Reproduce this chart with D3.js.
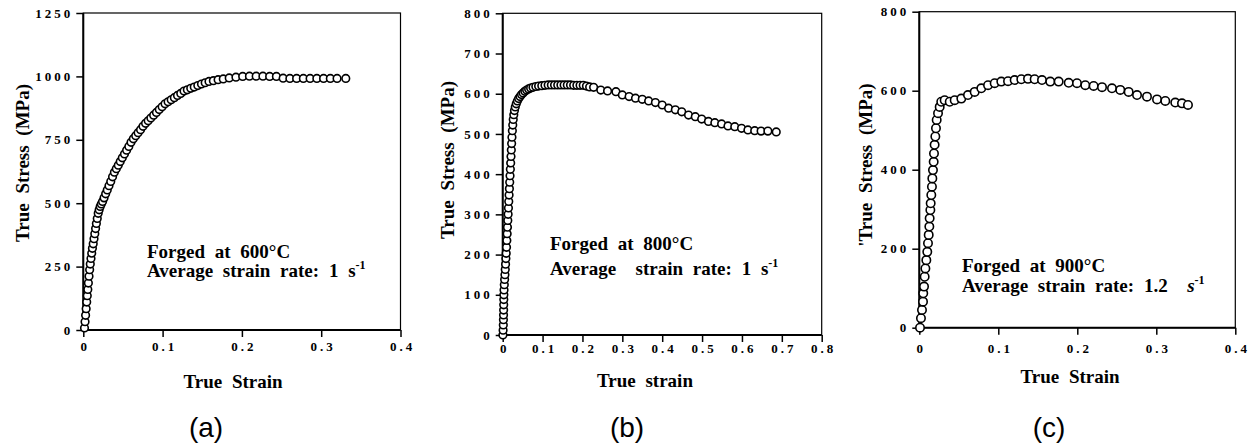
<!DOCTYPE html>
<html lang="en">
<head>
<meta charset="UTF-8" />
<title>True stress - true strain curves</title>
<script src="https://cdn.jsdelivr.net/npm/d3@7/dist/d3.min.js"></script>
<style>
  body { margin: 0; background: #fff; }
  svg { display: block; }
  .tick text { font-family: "Liberation Serif", "Times New Roman", serif; font-weight: bold; font-size: 13px; letter-spacing: 3px; fill: #000; }
  .tick line { stroke: #000; stroke-width: 1.5; }
  .domain { display: none; }
  .frame { fill: none; stroke: #000; stroke-width: 1.2; }
  .axis-line { stroke: #000; stroke-width: 2; }
  .title, .note { font-family: "Liberation Serif", "Times New Roman", serif; font-weight: bold; font-size: 19px; fill: #000; word-spacing: 5px; white-space: pre; }
  .panel-label { font-family: "Liberation Sans", Arial, sans-serif; font-size: 28px; fill: #000; }
  circle.pt { fill: #fff; stroke: #000; stroke-width: 1.6; }
</style>
</head>
<body>
<script>
// ---- data ----
var strainA = [0.0015,0.0022,0.0029,0.0036,0.0043,0.0050,0.0057,0.0064,0.0072,0.0080,0.0088,0.0097,0.0106,0.0115,0.0125,0.0135,0.0145,0.0155,0.0165,0.0176,0.0188,0.0200,0.0213,0.0227,
  0.0243,0.0262,0.0282,0.0302,0.0324,0.0346,0.0369,0.0392,0.0416,0.0441,0.0466,0.0492,0.0519,0.0546,0.0574,0.0602,0.0631,0.0661,0.0691,0.0722,0.0753,0.0785,0.0818,0.0852,0.0887,0.0922,0.0958,0.0994,
  0.1031,0.1069,0.1108,0.1148,0.1188,0.1229,0.1270,0.1312,0.1355,0.1399,0.1444,0.1490,0.1537,0.1585,0.1640,0.1700,0.1765,0.1840,0.1925,0.2010,0.2095,0.2180,0.2265,0.2350,0.2435,
  0.2520,0.2605,0.2690,0.2775,0.2860,0.2945,0.3030,0.3115,0.3200,0.3310];
var stressA = [8,33,58,84,110,135,160,185,212,238,260,282,303,322,340,360,380,400,420,440,460,474,487,497,
  507,521,537,552,569,586,604,622,636,650,664,679,694,709,724,740,754,766,778,790,803,815,825,836,847,858,869,880,
  892,900,908,916,925,933,942,947,953,958,964,970,975,980,983,987,990,994,997,1000,1001,1001,1001,1000,1000,
  993,992,992,992,992,992,992,992,992,992];

var strainB = [0.0005,0.0010,0.0015,0.0018,0.0021,0.0023,0.0025,0.0027,0.0029,0.0033,0.0040,0.0048,0.0056,0.0064,0.0072,0.0080,0.0088,0.0096,0.0104,0.0112,0.0120,0.0128,0.0136,0.0144,0.0152,0.0160,0.0168,0.0176,0.0184,0.0192,0.0200,0.0208,0.0216,0.0224,0.0232,0.0242,0.0252,0.0264,0.0278,0.0295,0.0315,0.0340,0.0368,0.0400,0.0435,0.0472,0.0512,0.0555,0.0600,0.0650,0.0700,
  0.0760,0.0830,0.0900,0.0980,0.1060,0.1140,0.1220,0.1300,0.1380,0.1460,0.1540,0.1620,0.1700,0.1780,0.1860,0.1940,0.2020,0.2100,0.2180,
  0.228,0.246,0.263,0.284,0.300,0.317,0.333,0.350,0.366,0.383,0.400,0.416,0.433,0.449,0.466,0.483,0.499,0.516,0.532,0.549,0.565,0.582,0.599,0.615,0.632,0.648,0.665,0.686];
var stressB = [0,12,25,38,50,62,75,88,100,112,125,138,150,163,176,190,203,218,235,252,268,285,300,316,332,348,364,380,396,412,428,444,460,476,492,508,522,536,548,558,567,575,582,588,593,598,602,606,609,612,614,
  616,618,619,620,621,622,622,622,622,622,622,622,622,621,621,621,621,619,617,
  616,609,607,605,597,593,589,586,582,578,572,564,560,555,547,543,537,531,528,525,520,518,514,510,508,507,507,505];

var strainC = [0.0009,0.0021,0.0034,0.0047,0.0050,0.0060,0.0068,0.0077,0.0089,0.0101,0.0110,0.0119,0.0127,0.0131,0.0140,0.0144,0.0152,0.0160,0.0165,0.0173,0.0182,0.0186,0.0194,0.0203,0.0211,0.0220,0.0237,0.0258,0.0278,0.0321,
  0.0385,0.0448,0.0532,0.0616,0.0701,0.0785,0.0870,0.0954,0.1038,0.1123,0.1207,0.1291,0.1376,0.1460,0.1553,0.1658,0.1764,0.1891,0.1996,0.2101,0.2207,0.2313,0.2439,0.2544,0.2650,0.2756,0.2882,0.3009,0.3114,0.3240,0.3325,0.3401];
var stressC = [0,24,45,66,87,104,129,150,171,192,214,235,256,277,298,315,336,357,378,399,420,441,463,484,505,526,543,559,572,576,
  572,576,580,589,597,606,614,619,623,624,627,629,630,629,627,623,623,620,619,614,612,609,606,602,597,589,585,578,574,570,568,564];

var xTicksA = [0, 0.1, 0.2, 0.3, 0.4];
var yTicksA = [0, 250, 500, 750, 1000, 1250];
var xTicksB = [0, 0.1, 0.2, 0.3, 0.4, 0.5, 0.6, 0.7, 0.8];
var yTicksB = [0, 100, 200, 300, 400, 500, 600, 700, 800];
var xTicksC = [0, 0.1, 0.2, 0.3, 0.4];
var yTicksC = [0, 200, 400, 600, 800];

var width = 1252, height = 446;

var svg = d3.select("body").append("svg")
  .attr("width", width)
  .attr("height", height);

// layout of the three panels (pixels)
var panels = [
  { strain: strainA, stress: stressA, xDomain: [0, 0.4], yDomain: [0, 1250], xTicks: xTicksA, yTicks: yTicksA,
    left: 83.3, right: 400.5, top: 13, bottom: 330, r: 3.8, xPad: 4.6,
    yTitle: "True Stress (MPa)", yTitleX: 22, yTitleY: 163,
    xTitle: "True Strain", xTitleX: 233, xTitleY: 388,
    label: "(a)", labelX: 206, labelY: 437,
    note1: "Forged at 600°C", note2: "Average strain rate: 1 ", unit: "s", italic: false, noteX: 147, noteY1: 258, noteY2: 277 },
  { strain: strainB, stress: stressB, xDomain: [0, 0.8], yDomain: [0, 800], xTicks: xTicksB, yTicks: yTicksB,
    left: 502.7, right: 821.7, top: 13.3, bottom: 335, r: 3.8, xPad: 1.5,
    yTitle: "True Stress (MPa)", yTitleX: 447, yTitleY: 160,
    xTitle: "True strain", xTitleX: 645, xTitleY: 387,
    label: "(b)", labelX: 627, labelY: 437,
    note1: "Forged at 800°C", note2: "Average  strain rate: 1 ", unit: "s", italic: false, noteX: 550, noteY1: 250, noteY2: 275 },
  { strain: strainC, stress: stressC, xDomain: [0, 0.4], yDomain: [0, 800], xTicks: xTicksC, yTicks: yTicksC,
    left: 919.3, right: 1235.3, top: 11.7, bottom: 327.7, r: 4.2, xPad: 9,
    yTitle: "'True Stress (MPa)", yTitleX: 865, yTitleY: 165,
    xTitle: "True Strain", xTitleX: 1070, xTitleY: 383,
    label: "(c)", labelX: 1049, labelY: 437,
    note1: "Forged at 900°C", note2: "Average strain rate: 1.2  ", unit: "s", italic: true, noteX: 962, noteY1: 271.7, noteY2: 291.7 }
];

panels.forEach(function(p) {
  var xScale = d3.scaleLinear().domain(p.xDomain).range([p.left, p.right]);
  var yScale = d3.scaleLinear().domain(p.yDomain).range([p.bottom, p.top]);

  var g = svg.append("g");

  g.append("rect")
    .attr("class", "frame")
    .attr("x", p.left)
    .attr("y", p.top)
    .attr("width", p.right - p.left)
    .attr("height", p.bottom - p.top);

  // heavier left and bottom axis lines
  g.append("line").attr("class", "axis-line")
    .attr("x1", p.left).attr("x2", p.right)
    .attr("y1", p.bottom).attr("y2", p.bottom);
  g.append("line").attr("class", "axis-line")
    .attr("x1", p.left).attr("x2", p.left)
    .attr("y1", p.top).attr("y2", p.bottom);

  var xAxis = d3.axisBottom(xScale)
    .tickValues(p.xTicks)
    .tickSize(7)
    .tickPadding(p.xPad)
    .tickFormat(function(d) { return d === 0 ? "0" : d3.format(".1f")(d); });

  g.append("g")
    .attr("class", "x-axis")
    .attr("transform", "translate(0," + p.bottom + ")")
    .call(xAxis)
    .selectAll("text").attr("dx", "1.5");

  var yAxis = d3.axisLeft(yScale)
    .tickValues(p.yTicks)
    .tickSize(7)
    .tickPadding(3)
    .tickFormat(d3.format("d"));

  g.append("g")
    .attr("class", "y-axis")
    .attr("transform", "translate(" + p.left + ",0)")
    .call(yAxis);

  var data = p.strain.map(function(s, i) { return { x: s, y: p.stress[i] }; });

  g.selectAll("circle.pt")
    .data(data)
    .enter().append("circle")
    .attr("class", "pt")
    .attr("r", p.r)
    .attr("cx", function(d) { return xScale(d.x); })
    .attr("cy", function(d) { return yScale(d.y); });

  g.append("text")
    .attr("class", "title")
    .attr("text-anchor", "middle")
    .attr("transform", "translate(" + p.yTitleX + "," + p.yTitleY + ") rotate(-90)")
    .attr("dy", "0.35em")
    .text(p.yTitle);

  g.append("text")
    .attr("class", "title")
    .attr("text-anchor", "middle")
    .attr("x", p.xTitleX)
    .attr("y", p.xTitleY)
    .text(p.xTitle);

  g.append("text")
    .attr("class", "note")
    .attr("x", p.noteX)
    .attr("y", p.noteY1)
    .text(p.note1);

  var n2 = g.append("text")
    .attr("class", "note")
    .attr("x", p.noteX)
    .attr("y", p.noteY2);
  n2.append("tspan").text(p.note2);
  n2.append("tspan")
    .style("font-style", p.italic ? "italic" : "normal")
    .text(p.unit);
  n2.append("tspan")
    .attr("dy", -8)
    .style("font-size", "12px")
    .text("-1");

  g.append("text")
    .attr("class", "panel-label")
    .attr("text-anchor", "middle")
    .attr("x", p.labelX)
    .attr("y", p.labelY)
    .text(p.label);
});
</script>
</body>
</html>
